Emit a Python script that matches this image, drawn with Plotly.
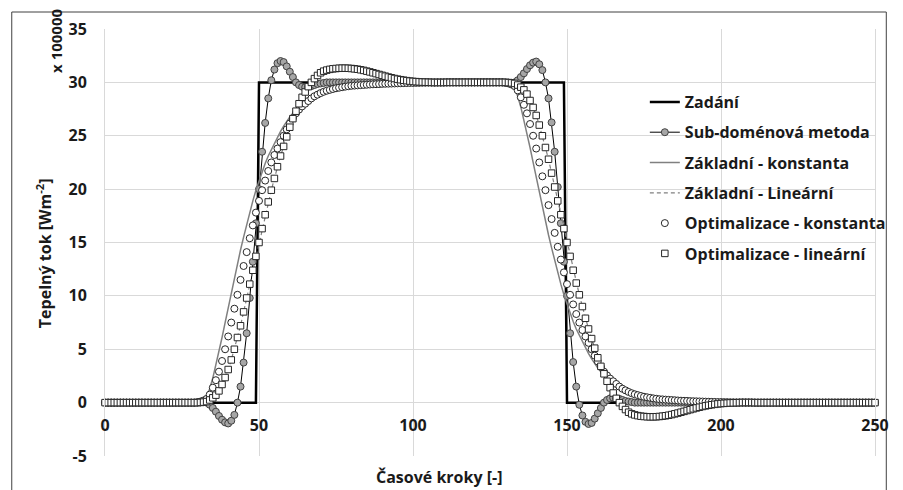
import plotly.graph_objects as go

# ---------------- data ----------------
steps = list(range(0, 251))

x_ticks = [0, 50, 100, 150, 200, 250]
y_ticks = [-5, 0, 5, 10, 15, 20, 25, 30, 35]

# Zadání (target heat flux), breakpoints
target_x = [0, 49, 50, 149, 150, 250]
target_y = [0, 0, 30, 30, 0, 0]

# Sub-doménová metoda
sub_dom = ([0.0] * 30 +
           [0.0, 0.02, 0.05, 0.0, -0.2, -0.5, -0.85, -1.25, -1.6, -1.85, -1.95, -1.7, -1.15, 0.0,
            1.5, 3.75, 6.5, 9.8, 13.2, 16.8, 20.0, 23.5, 26.2, 28.5, 30.2, 31.2, 31.8, 32.0, 31.9,
            31.5, 31.0, 30.5, 30.0, 29.75, 29.6, 29.55, 29.6, 29.65, 29.75, 29.85, 29.9, 29.95, 30.0] +
           [30.0] * 58 +
           [29.98, 29.95, 30.0, 30.2, 30.5, 30.85, 31.25, 31.6, 31.85, 31.95, 31.7, 31.15, 30.0,
            28.5, 26.25, 23.5, 20.2, 16.8, 13.2, 10.0, 6.5, 3.8, 1.5, -0.2, -1.2, -1.8, -2.0, -1.9,
            -1.5, -1.0, -0.5, 0.0, 0.25, 0.4, 0.45, 0.4, 0.35, 0.25, 0.15, 0.1, 0.05, 0.0] +
           [0.0] * 78)

# Základní - konstanta
zakl_konst = ([0.0] * 30 +
              [0.05, 0.1, 0.3, 0.6, 1.3, 2.3, 3.5, 4.8, 6.1, 7.5, 8.9, 10.3, 11.7, 13.0, 14.3, 15.5,
               16.7, 17.8, 18.9, 19.9, 20.8, 21.6, 22.4, 23.1, 23.7, 24.3, 24.9, 25.4, 25.9, 26.35,
               26.75, 27.1, 27.4, 27.7, 27.95, 28.2, 28.4, 28.6, 28.8, 28.95, 29.1, 29.2, 29.3, 29.37,
               29.44, 29.5, 29.55, 29.6, 29.64, 29.68, 29.71, 29.74, 29.76, 29.78, 29.8, 29.82, 29.84,
               29.85, 29.86, 29.87, 29.88, 29.89, 29.9, 29.91, 29.92, 29.93, 29.94, 29.95, 29.95,
               29.96, 29.96, 29.97, 29.97, 29.98, 29.98, 29.98, 29.99, 29.99, 29.99, 29.99, 29.99] +
              [30.0] * 19 +
              [29.95, 29.9, 29.7, 29.4, 28.7, 27.7, 26.5, 25.2, 23.9, 22.5, 21.1, 19.7, 18.3, 17.0,
               15.7, 14.5, 13.3, 12.2, 11.1, 10.1, 9.2, 8.4, 7.6, 6.9, 6.3, 5.7, 5.1, 4.6, 4.1, 3.65,
               3.25, 2.9, 2.6, 2.3, 2.05, 1.8, 1.6, 1.4, 1.2, 1.05, 0.9, 0.8, 0.7, 0.63, 0.56, 0.5,
               0.45, 0.4, 0.36, 0.32, 0.29, 0.26, 0.24, 0.22, 0.2, 0.18, 0.16, 0.15, 0.14, 0.13, 0.12,
               0.11, 0.1, 0.09, 0.08, 0.07, 0.06, 0.05, 0.05, 0.04, 0.04, 0.03, 0.03, 0.02, 0.02,
               0.02, 0.01, 0.01, 0.01, 0.01, 0.01] +
              [0.0] * 40)

# Základní - Lineární
zakl_lin = ([0.0] * 30 +
            [0.0, 0.02, 0.05, 0.1, 0.25, 0.45, 0.7, 1.1, 1.7, 2.35, 3.1, 4.0, 5.0, 6.1, 7.2, 8.5, 9.8,
             11.1, 12.4, 13.7, 15.0, 16.3, 17.6, 18.8, 19.9, 21.0, 22.1, 23.1, 24.0, 24.9, 25.8, 26.6,
             27.3, 28.0, 28.6, 29.1, 29.6, 30.0, 30.35, 30.65, 30.9, 31.05, 31.15, 31.22, 31.27, 31.3,
             31.32, 31.33, 31.33, 31.32, 31.3, 31.27, 31.23, 31.18, 31.12, 31.05, 30.98, 30.9, 30.82,
             30.74, 30.66, 30.58, 30.5, 30.43, 30.36, 30.3, 30.25, 30.2, 30.16, 30.12, 30.09, 30.07,
             30.05, 30.03, 30.02, 30.01, 30.0, 29.99, 29.99, 29.99, 29.99] +
            [30.0] * 19 +
            [30.0, 29.98, 29.95, 29.9, 29.75, 29.55, 29.3, 28.9, 28.3, 27.65, 26.9, 26.0, 25.0, 23.9,
             22.8, 21.5, 20.2, 18.9, 17.6, 16.3, 15.0, 13.7, 12.4, 11.2, 10.1, 9.0, 7.9, 6.9, 6.0, 5.1,
             4.2, 3.4, 2.7, 2.0, 1.4, 0.9, 0.4, 0.0, -0.35, -0.65, -0.9, -1.05, -1.15, -1.22, -1.27,
             -1.3, -1.32, -1.33, -1.33, -1.32, -1.3, -1.27, -1.23, -1.18, -1.12, -1.05, -0.98, -0.9,
             -0.82, -0.74, -0.66, -0.58, -0.5, -0.43, -0.36, -0.3, -0.25, -0.2, -0.16, -0.12, -0.09,
             -0.07, -0.05, -0.03, -0.02, -0.01, 0.0, 0.01, 0.01, 0.01, 0.01] +
            [0.0] * 40)

# Optimalizace - konstanta
opt_konst = ([0.0] * 30 +
             [0.05, 0.1, 0.2, 0.35, 0.75, 1.4, 2.1, 2.9, 3.9, 5.0, 6.2, 7.5, 8.8, 10.1, 11.5, 12.8,
              14.1, 15.4, 16.6, 17.8, 18.9, 19.9, 20.8, 21.7, 22.5, 23.2, 23.8, 24.4, 25.0, 25.6,
              26.15, 26.65, 27.1, 27.45, 27.75, 28.0, 28.25, 28.5, 28.7, 28.85, 29.0, 29.12, 29.22,
              29.3, 29.38, 29.45, 29.5, 29.55, 29.6, 29.64, 29.68, 29.7, 29.72, 29.74, 29.76, 29.78,
              29.8, 29.82, 29.83, 29.84, 29.86, 29.87, 29.88, 29.89, 29.9, 29.91, 29.92, 29.93, 29.94,
              29.95, 29.95, 29.96, 29.96, 29.97, 29.97, 29.98, 29.98, 29.98, 29.99, 29.99, 29.99] +
             [30.0] * 19 +
             [29.95, 29.9, 29.8, 29.65, 29.25, 28.6, 27.9, 27.1, 26.1, 25.0, 23.8, 22.5, 21.2, 19.9,
              18.5, 17.2, 15.9, 14.6, 13.4, 12.2, 11.1, 10.1, 9.2, 8.3, 7.5, 6.8, 6.2, 5.6, 5.0, 4.4,
              3.85, 3.35, 2.9, 2.55, 2.25, 2.0, 1.75, 1.5, 1.3, 1.15, 1.0, 0.88, 0.78, 0.7, 0.62,
              0.55, 0.5, 0.45, 0.4, 0.36, 0.32, 0.3, 0.28, 0.26, 0.24, 0.22, 0.2, 0.18, 0.17, 0.16,
              0.14, 0.13, 0.12, 0.11, 0.1, 0.09, 0.08, 0.07, 0.06, 0.05, 0.05, 0.04, 0.04, 0.03, 0.03,
              0.02, 0.02, 0.02, 0.01, 0.01, 0.01] +
             [0.0] * 40)

# Optimalizace - lineární
opt_lin = ([0.0] * 30 +
           [0.0, 0.02, 0.05, 0.1, 0.25, 0.45, 0.7, 1.1, 1.7, 2.35, 3.1, 4.0, 5.0, 6.1, 7.2, 8.5, 9.8,
            11.1, 12.4, 13.7, 15.0, 16.3, 17.6, 18.8, 19.9, 21.0, 22.1, 23.1, 24.0, 24.9, 25.8, 26.6,
            27.3, 28.0, 28.6, 29.1, 29.6, 30.0, 30.35, 30.65, 30.9, 31.05, 31.15, 31.22, 31.27, 31.3,
            31.32, 31.33, 31.33, 31.32, 31.3, 31.27, 31.23, 31.18, 31.12, 31.05, 30.98, 30.9, 30.82,
            30.74, 30.66, 30.58, 30.5, 30.43, 30.36, 30.3, 30.25, 30.2, 30.16, 30.12, 30.09, 30.07,
            30.05, 30.03, 30.02, 30.01, 30.0, 29.99, 29.99, 29.99, 29.99] +
           [30.0] * 19 +
           [30.0, 29.98, 29.95, 29.9, 29.75, 29.55, 29.3, 28.9, 28.3, 27.65, 26.9, 26.0, 25.0, 23.9,
            22.8, 21.5, 20.2, 18.9, 17.6, 16.3, 15.0, 13.7, 12.4, 11.2, 10.1, 9.0, 7.9, 6.9, 6.0, 5.1,
            4.2, 3.4, 2.7, 2.0, 1.4, 0.9, 0.4, 0.0, -0.35, -0.65, -0.9, -1.05, -1.15, -1.22, -1.27,
            -1.3, -1.32, -1.33, -1.33, -1.32, -1.3, -1.27, -1.23, -1.18, -1.12, -1.05, -0.98, -0.9,
            -0.82, -0.74, -0.66, -0.58, -0.5, -0.43, -0.36, -0.3, -0.25, -0.2, -0.16, -0.12, -0.09,
            -0.07, -0.05, -0.03, -0.02, -0.01, 0.0, 0.01, 0.01, 0.01, 0.01] +
           [0.0] * 40)

# ---------------- figure ----------------
FONT = "Open Sans"
TXT = "#1a1a1a"
GRID = "#d9d9d9"

fig = go.Figure()

fig.add_trace(go.Scatter(x=target_x, y=target_y, mode="lines", name="Zadání",
                         line=dict(color="black", width=2.5), legendgroup="a", cliponaxis=False))
fig.add_trace(go.Scatter(x=steps, y=sub_dom, mode="lines+markers", name="Sub-doménová metoda",
                         line=dict(color="black", width=1),
                         marker=dict(symbol="circle", size=7, color="#a6a6a6",
                                     line=dict(color="#404040", width=1)),
                         legendgroup="b", cliponaxis=False))
fig.add_trace(go.Scatter(x=steps, y=zakl_konst, mode="lines", name="Základní - konstanta",
                         line=dict(color="#808080", width=1.5), legendgroup="c", cliponaxis=False))
fig.add_trace(go.Scatter(x=steps, y=zakl_lin, mode="lines", name="Základní - Lineární",
                         line=dict(color="#808080", width=1.2, dash="4px,3px"), legendgroup="d",
                         cliponaxis=False))
fig.add_trace(go.Scatter(x=steps, y=opt_konst, mode="markers", name="Optimalizace - konstanta",
                         marker=dict(symbol="circle", size=7, color="white",
                                     line=dict(color="#262626", width=1)),
                         legendgroup="e", cliponaxis=False))
fig.add_trace(go.Scatter(x=steps, y=opt_lin, mode="markers", name="Optimalizace - lineární",
                         marker=dict(symbol="square", size=6.5, color="white",
                                     line=dict(color="#262626", width=1)),
                         legendgroup="f", cliponaxis=False))

L, R, T, B = 105, 13.5, 29, 34
W, H = 903, 490
pw, ph = W - L - R, H - T - B


def px_x(p):
    return (p - L) / pw


def px_y(p):
    return (H - B - p) / ph


fig.update_layout(
    width=W, height=H,
    margin=dict(l=L, r=R, t=T, b=B, pad=0),
    paper_bgcolor="white", plot_bgcolor="white",
    font=dict(family=FONT, size=16, color=TXT, weight="bold"),
    showlegend=True,
    legend=dict(x=px_x(655), y=px_y(85), xanchor="left", yanchor="top",
                bgcolor="rgba(0,0,0,0)", borderwidth=0, tracegroupgap=6.5,
                font=dict(family=FONT, size=16, color=TXT, weight="bold")),
    xaxis=dict(range=[0, 250], tickvals=x_ticks, ticktext=[str(v) for v in x_ticks],
               showgrid=True, gridcolor=GRID, gridwidth=1, zeroline=False, showline=False,
               anchor="free", position=0.125, ticks="outside", ticklen=8,
               tickcolor="rgba(0,0,0,0)", tickfont=dict(size=16, weight="bold")),
    yaxis=dict(range=[-5, 35], tickvals=y_ticks, ticktext=[str(v) for v in y_ticks],
               showgrid=True, gridcolor=GRID, gridwidth=1, zeroline=False,
               showline=True, mirror=True, linecolor=GRID, linewidth=1,
               ticks="outside", ticklen=14, tickcolor="rgba(0,0,0,0)",
               tickfont=dict(size=16, weight="bold")),
)

fig.add_annotation(text="Časové kroky [-]", xref="paper", yref="paper",
                   x=px_x(445), y=px_y(477), xanchor="center", yanchor="middle",
                   showarrow=False, font=dict(size=16, weight="bold"))
fig.add_annotation(text="Tepelný tok [Wm<sup>-2</sup>]", xref="paper", yref="paper",
                   x=px_x(43), y=px_y(253), xanchor="center", yanchor="middle", textangle=-90,
                   showarrow=False, font=dict(size=16, weight="bold"))
fig.add_annotation(text="x 100000", xref="paper", yref="paper",
                   x=px_x(55), y=px_y(41), xanchor="center", yanchor="middle", textangle=-90,
                   showarrow=False, font=dict(size=15, weight="bold"))

# chart-area border
fig.add_shape(type="rect", xref="paper", yref="paper",
              x0=px_x(10), x1=px_x(901), y0=px_y(500), y1=px_y(12),
              line=dict(color="#404040", width=1), fillcolor="rgba(0,0,0,0)", layer="below")

fig.write_html("out.html")
